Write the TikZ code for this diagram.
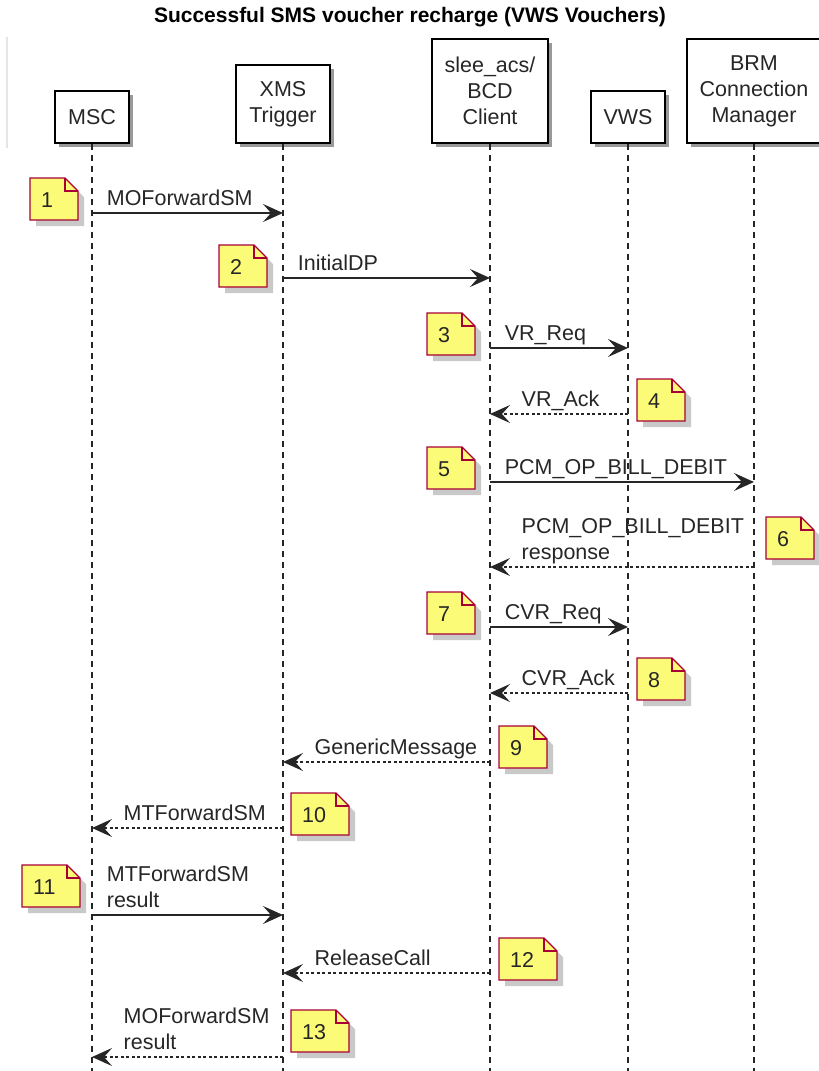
\documentclass[tikz,border=0pt]{standalone}
\usepackage{fontspec}
\setmainfont{Liberation Sans}
\usepackage{tikz}
\usetikzlibrary{arrows.meta,shadows}
\definecolor{notefill}{HTML}{FBFB77}
\definecolor{noteline}{HTML}{A80036}
\newcommand\msgfont{\fontsize{21.5pt}{26pt}\selectfont}
% numbered note with folded corner: name, x, y, width, number
\newcommand\seqnote[5]{%
  \fill[black!30,opacity=.7] (#2+6,#3+6) -- (#2+#4-7,#3+6) -- (#2+#4+6,#3+19) -- (#2+#4+6,#3+48) -- (#2+6,#3+48) -- cycle;
  \filldraw[fill=notefill,draw=noteline,line width=1.3pt] (#2,#3) -- (#2+#4-13,#3) -- (#2+#4,#3+13) -- (#2+#4,#3+42) -- (#2,#3+42) -- cycle;
  \draw[noteline,line width=1.3pt] (#2+#4-13,#3) -- (#2+#4-13,#3+13) -- (#2+#4,#3+13);
  \node[anchor=west,inner sep=0pt,font=\msgfont,text=black!85] (#1) at (#2+11,#3+22) {#5};
}

\begin{document}
\begin{tikzpicture}[x=1pt,y=-1pt,>={Stealth[length=20pt,width=18pt,inset=8pt]},
  part/.style={draw=black,line width=2pt,fill=white,font=\msgfont,align=center,
    inner xsep=13pt,inner ysep=0pt,anchor=south,text=black!85,
    drop shadow={shadow xshift=4pt,shadow yshift=-4pt,fill=black,opacity=.4}},
  lifeline/.style={black!85,line width=1.4pt,dash pattern=on 6pt off 5pt},
  msg/.style={->,black!85,line width=1.7pt},
  reply/.style={->,black!85,line width=1.4pt,dash pattern=on 3pt off 2.5pt},
  lbl/.style={anchor=south west,yshift=2pt,inner sep=0pt,font=\msgfont,
    align=left,text depth=5pt,text=black!85},
  lblR/.style={lbl,xshift=14pt},
  lblL/.style={lbl,xshift=31pt}]
\useasboundingbox (0,0) rectangle (819,1071);

\node[font=\bfseries\fontsize{21pt}{25pt}\selectfont] (title) at (410,17)
  {Successful SMS voucher recharge (VWS Vouchers)};
\draw[black!10,line width=1.5pt] (7,37) -- (7,148);

% participants
\node[part,minimum height=52pt] (msc) at (92,144) {MSC};
\node[part,minimum height=78pt] (xms) at (283,144) {XMS\\Trigger};
\node[part,minimum height=104pt] (slee) at (490,144) {slee\_acs/\\BCD\\Client};
\node[part,minimum height=52pt] (vws) at (628,144) {VWS};
\node[part,minimum height=104pt] (brm) at (754,144) {BRM\\Connection\\Manager};

\foreach \p in {msc,xms,slee,vws,brm}
  \draw[lifeline] (\p.south) -- (\p |- 0,1071);

% messages
\draw[msg] (msc |- 0,213) -- (xms |- 0,213) node[pos=0,lblR] {MOForwardSM};
\draw[msg] (xms |- 0,278) -- (slee |- 0,278) node[pos=0,lblR] {InitialDP};
\draw[msg] (slee |- 0,348) -- (vws |- 0,348) node[pos=0,lblR] {VR\_Req};
\draw[reply] (vws |- 0,414) -- (slee |- 0,414) node[pos=1,lblL] {VR\_Ack};
\draw[msg] (slee |- 0,482) -- (brm |- 0,482) node[pos=0,lblR] {PCM\_OP\_BILL\_DEBIT};
\draw[reply] (brm |- 0,567) -- (slee |- 0,567) node[pos=1,lblL] {PCM\_OP\_BILL\_DEBIT\\response};
\draw[msg] (slee |- 0,627) -- (vws |- 0,627) node[pos=0,lblR] {CVR\_Req};
\draw[reply] (vws |- 0,693) -- (slee |- 0,693) node[pos=1,lblL] {CVR\_Ack};
\draw[reply] (slee |- 0,762) -- (xms |- 0,762) node[pos=1,lblL] {GenericMessage};
\draw[reply] (xms |- 0,828) -- (msc |- 0,828) node[pos=1,lblL] {MTForwardSM};
\draw[msg] (msc |- 0,915) -- (xms |- 0,915) node[pos=0,lblR] {MTForwardSM\\result};
\draw[reply] (slee |- 0,973) -- (xms |- 0,973) node[pos=1,lblL] {ReleaseCall};
\draw[reply] (xms |- 0,1057) -- (msc |- 0,1057) node[pos=1,lblL] {MOForwardSM\\result};

% numbered notes
\seqnote{n1}{30}{178}{48}{1}
\seqnote{n2}{219}{245}{48}{2}
\seqnote{n3}{427}{313}{48}{3}
\seqnote{n4}{637}{379}{48}{4}
\seqnote{n5}{427}{447}{48}{5}
\seqnote{n6}{766}{517}{48}{6}
\seqnote{n7}{427}{592}{48}{7}
\seqnote{n8}{637}{658}{48}{8}
\seqnote{n9}{499}{726}{48}{9}
\seqnote{n10}{291}{793}{58}{10}
\seqnote{n11}{22}{865}{58}{11}
\seqnote{n12}{499}{938}{58}{12}
\seqnote{n13}{291}{1010}{58}{13}
\end{tikzpicture}
\end{document}
